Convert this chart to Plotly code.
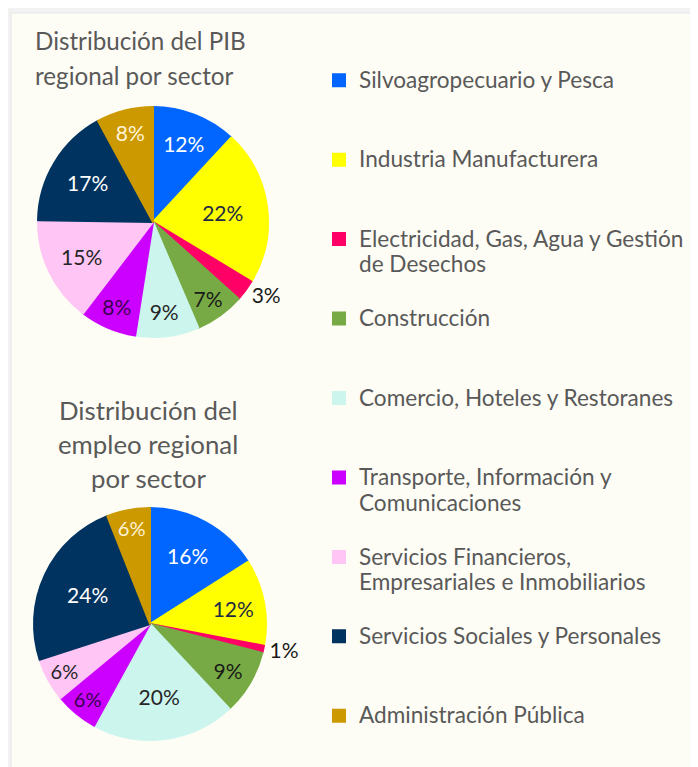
import plotly.graph_objects as go

# The page body has an 8px margin, so the figure is 8px smaller than the window
OFF = 8
W, H = 698 - OFF, 767 - OFF

sectors = [
    "Silvoagropecuario y Pesca",
    "Industria Manufacturera",
    "Electricidad, Gas, Agua y Gestión<br>de Desechos",
    "Construcción",
    "Comercio, Hoteles y Restoranes",
    "Transporte, Información y<br>Comunicaciones",
    "Servicios Financieros,<br>Empresariales e Inmobiliarios",
    "Servicios Sociales y Personales",
    "Administración Pública",
]
pib_pct = [12, 22, 3, 7, 9, 8, 15, 17, 8]
empleo_pct = [16, 12, 1, 9, 20, 6, 6, 24, 6]

colors = ["#0066FF", "#FFFF00", "#FF0066", "#77AA44", "#CCF5EE",
          "#CC00FF", "#FFC6F5", "#003360", "#CC9900"]
text_colors = ["#FFFFFF", "#1F2A44", "#262626", "#1A1A1A", "#262626",
               "#3A0050", "#262626", "#FFFFFF", "#FFF3D6"]

title_pib = ["Distribución del PIB", "regional por sector"]
title_empleo = ["Distribución del", "empleo regional", "por sector"]

LEG_TXT = 22.6
LEG_FONT = 19.6


def legend_label(s):
    lines = s.split("<br>")
    while len(lines) < 3:
        lines.append("\u00a0")
    return "<br>".join(f'<span style="font-size:{LEG_TXT}px">{l}</span>' for l in lines)


labels = [legend_label(s) for s in sectors]


def px_x(v):
    return (v - OFF) / W


def px_y(v):
    return 1 - (v - OFF) / H


def pie(values, small_idx, dom_x, dom_y, show):
    return go.Pie(
        labels=labels,
        values=values,
        text=[f"{v}%" for v in values],
        textinfo="text",
        textposition=["outside" if i == small_idx else "inside" for i in range(len(values))],
        insidetextorientation="horizontal",
        insidetextfont=dict(family="Lato", size=21, color=text_colors),
        outsidetextfont=dict(family="Lato", size=21, color="#1A1A1A"),
        marker=dict(colors=colors, line=dict(width=2, color=colors)),
        sort=False,
        direction="clockwise",
        rotation=0,
        domain=dict(x=dom_x, y=dom_y),
        showlegend=show,
        hoverinfo="skip",
    )


fig = go.Figure()
fig.add_trace(pie(pib_pct, 2, [px_x(38), px_x(268)], [px_y(337), px_y(107)], True))
fig.add_trace(pie(empleo_pct, 2, [px_x(34), px_x(266)], [px_y(740), px_y(508)], False))

annotations = []
for i, line in enumerate(title_pib):
    annotations.append(dict(text=line, x=px_x(33), y=px_y(40 + 35 * i), xref="paper", yref="paper",
                            xanchor="left", yanchor="middle", showarrow=False,
                            font=dict(family="Lato", size=24.2, color="#595959")))
for i, line in enumerate(title_empleo):
    annotations.append(dict(text=line, x=px_x(148), y=px_y(410 + 34 * i), xref="paper", yref="paper",
                            xanchor="center", yanchor="middle", showarrow=False,
                            font=dict(family="Lato", size=25.8, color="#595959")))

fig.update_layout(
    width=W, height=H,
    margin=dict(l=0, r=0, t=0, b=0, autoexpand=False),
    paper_bgcolor="#F2F2F2",
    plot_bgcolor="#FEFDF5",
    shapes=[dict(type="rect", xref="paper", yref="paper", x0=px_x(11), x1=1.01, y0=-0.01, y1=px_y(13),
                 fillcolor="#FEFDF5", line=dict(color="#E6E6E6", width=1), layer="below")],
    annotations=annotations,
    legend=dict(
        x=px_x(319), y=px_y(61), xanchor="left", yanchor="top",
        font=dict(family="Lato", size=LEG_FONT, color="#595959"),
        valign="top",
        bgcolor="rgba(0,0,0,0)",
        tracegroupgap=0,
    ),
    font=dict(family="Lato"),
)

fig.write_html("out.html")
